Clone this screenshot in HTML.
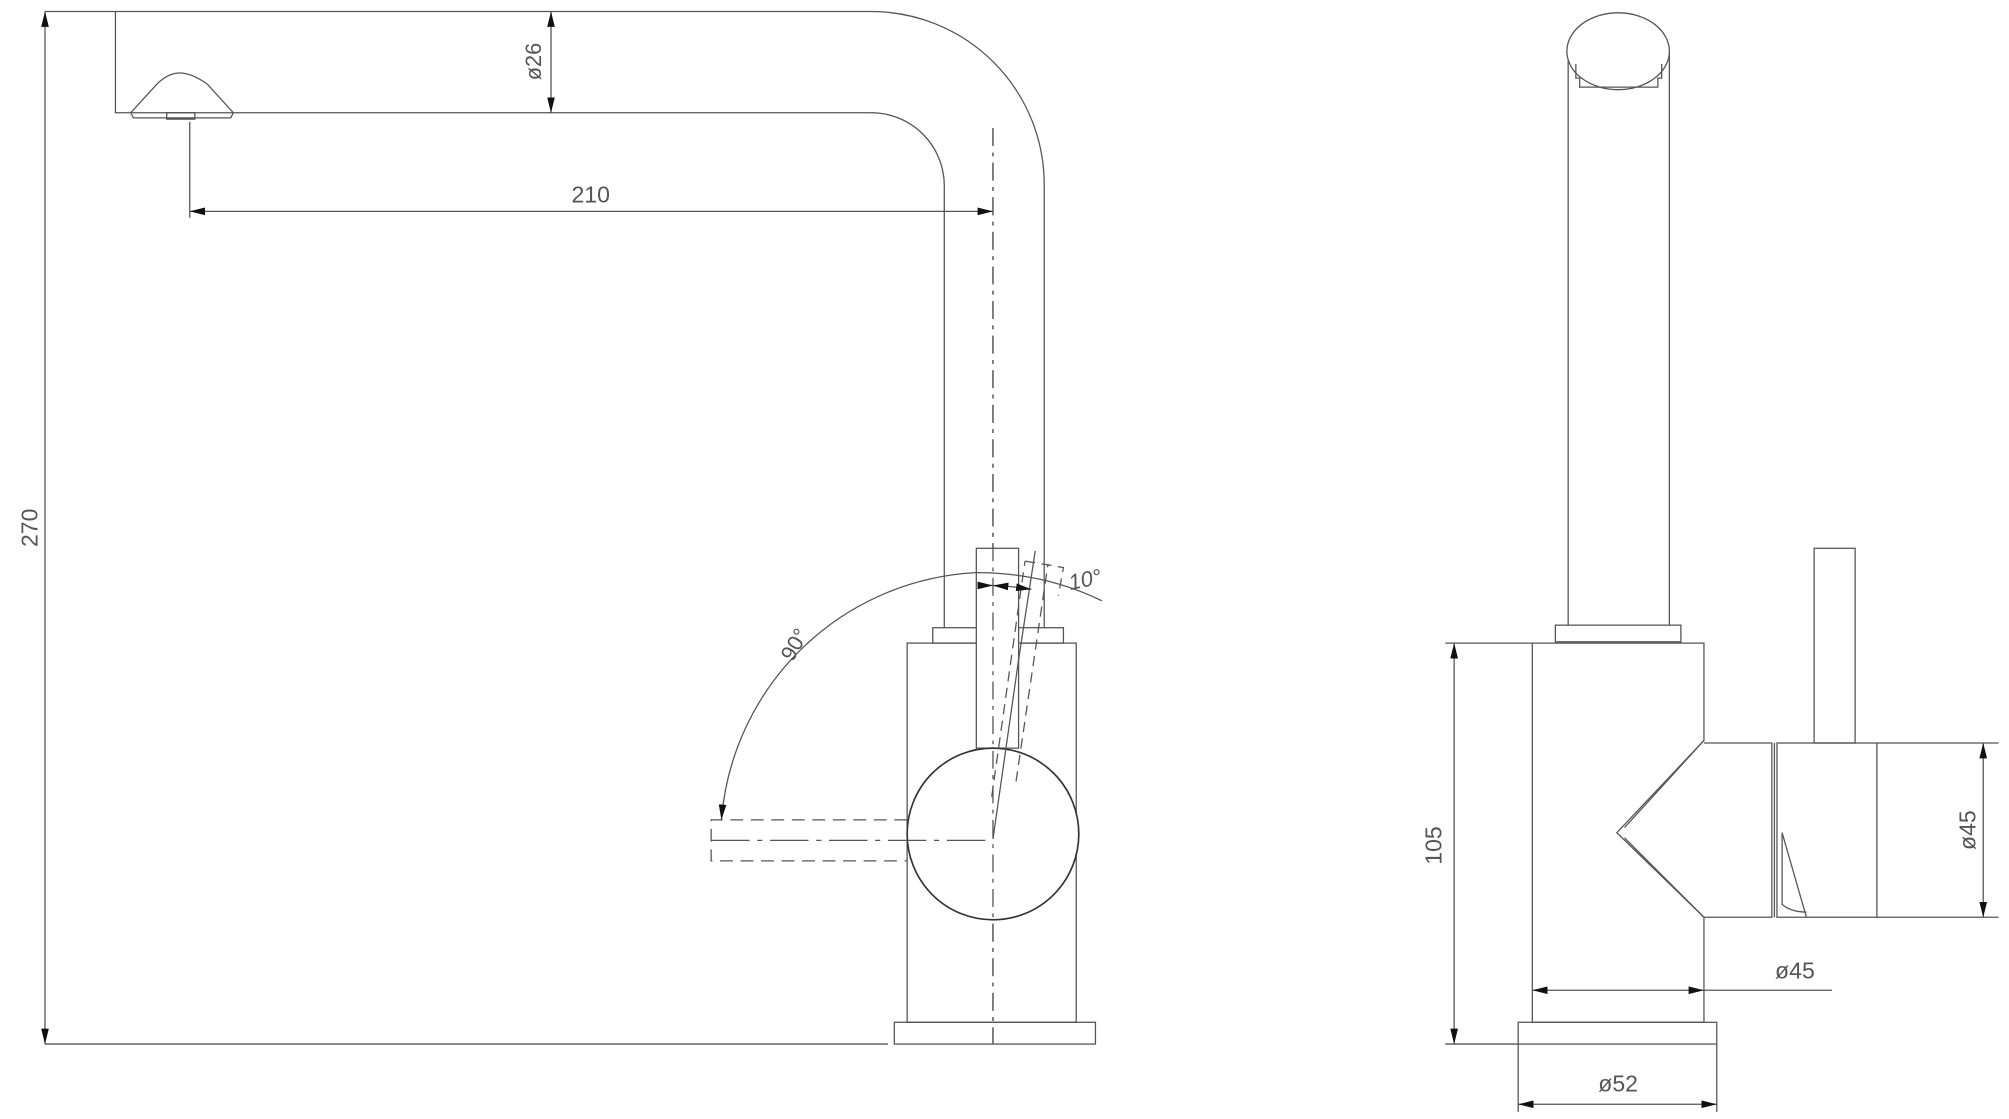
<!DOCTYPE html>
<html><head><meta charset="utf-8"><style>html,body{margin:0;padding:0;background:#fff}svg{display:block}text{font-family:"Liberation Sans",sans-serif;fill:#555}</style></head>
<body>
<svg width="2009" height="1119" viewBox="0 0 1568 873.5" xmlns="http://www.w3.org/2000/svg">
<defs>
<marker id="a" viewBox="0 0 12 6" refX="12" refY="3" markerWidth="12" markerHeight="6" orient="auto-start-reverse" markerUnits="userSpaceOnUse"><path d="M0,0 L12,3 L0,6z" fill="#111"/></marker>
</defs>
<g fill="none" stroke="#555" stroke-width="1">
<!-- LEFT VIEW: spout -->
<path d="M35,9 H680 A135,135 0 0 1 815,144 V490"/>
<path d="M90,9 V88 H680 A57,57 0 0 1 737,145 V490"/>
<path d="M102,88 L122,66 Q131,57 140,57 Q150,57 162,66 L182,88 L180,92 H104 Z"/>
<rect x="130" y="88" width="22" height="5"/>
<!-- dims -->
<line x1="430" y1="9" x2="430" y2="88" marker-start="url(#a)" marker-end="url(#a)"/>
<line x1="148" y1="95" x2="148" y2="170"/>
<line x1="148" y1="165" x2="775" y2="165" marker-start="url(#a)" marker-end="url(#a)"/>
<line x1="35" y1="9" x2="35" y2="815" marker-start="url(#a)" marker-end="url(#a)"/>
<line x1="35" y1="815" x2="693" y2="815"/>
<line x1="775" y1="100" x2="775" y2="815" stroke-dasharray="14,5,3,5"/>
<!-- body -->
<rect x="698" y="798" width="157" height="17"/>
<rect x="708" y="502" width="132" height="296"/>
<rect x="728" y="490" width="102" height="12"/>
<rect x="762" y="428" width="33" height="156" fill="#fff"/>
<path d="M711,665 A67,67 0 0 0 838,668"/>
<circle cx="775" cy="651" r="67" fill="#fff" stroke="#333" stroke-width="1.3"/>
<line x1="775" y1="100" x2="775" y2="815" stroke-dasharray="14,5,3,5"/>
<!-- dashed lever positions -->
<path d="M708,640 H555 V672 H708" stroke-dasharray="10,6"/>
<line x1="555" y1="656" x2="775" y2="656" stroke-dasharray="30,6,4,6"/>
<path d="M774,622 L800,438 M793,610 L818,440 M800,438 L830,443 L826,465" stroke-dasharray="8,5"/>
<line x1="775" y1="655" x2="795" y2="515"/>
<line x1="795" y1="515" x2="808" y2="430"/>
<!-- angle arcs -->
<path d="M563,640 A210,210 0 0 1 762,447" marker-start="url(#a)"/>
<path d="M762,447 Q815,447 860,469"/>
<line x1="764" y1="457" x2="775" y2="457" marker-end="url(#a)"/>
<line x1="790" y1="458" x2="775" y2="457" marker-end="url(#a)"/>
<line x1="790" y1="458" x2="805" y2="460" marker-end="url(#a)"/>
<!-- RIGHT VIEW -->
<path d="M1224,40 V488 M1303,40 V488"/>
<ellipse cx="1263" cy="40" rx="40" ry="30" fill="#fff"/>
<path d="M1230,50 V61 H1233 V68 H1294 V61 H1297 V50"/>
<rect x="1214" y="488" width="98" height="13"/>
<path d="M1196,502 H1330 V578 L1262,650 L1330,716 V798 H1196 Z"/>
<path d="M1330,578 L1268,646 M1330,716 L1268,654"/>
<rect x="1185" y="798" width="155" height="17"/>
<path d="M1330,580 H1383 V716 H1330"/>
<rect x="1387" y="580" width="78" height="136"/>
<path d="M1385,580 V716 M1391,650 L1410,716 M1391,650 V706 Q1398,712 1410,712"/>
<rect x="1416" y="428" width="32" height="152"/>
<!-- right dims -->
<line x1="1135" y1="502" x2="1135" y2="815" marker-start="url(#a)" marker-end="url(#a)"/>
<line x1="1128" y1="502" x2="1196" y2="502"/>
<line x1="1128" y1="815" x2="1185" y2="815"/>
<line x1="1548" y1="580" x2="1548" y2="716" marker-start="url(#a)" marker-end="url(#a)"/>
<line x1="1465" y1="580" x2="1560" y2="580"/>
<line x1="1465" y1="716" x2="1560" y2="716"/>
<line x1="1196" y1="773" x2="1330" y2="773" marker-start="url(#a)" marker-end="url(#a)"/>
<line x1="1330" y1="773" x2="1430" y2="773"/>
<line x1="1185" y1="815" x2="1185" y2="868"/>
<line x1="1340" y1="815" x2="1340" y2="868"/>
<line x1="1185" y1="862" x2="1340" y2="862" marker-start="url(#a)" marker-end="url(#a)"/>
</g>
<text x="461" y="158" font-size="18" text-anchor="middle">210</text>
<text transform="translate(422,48) rotate(-90)" font-size="17" text-anchor="middle">ø26</text>
<text transform="translate(29,412) rotate(-90)" font-size="18" text-anchor="middle">270</text>
<text transform="translate(625,506) rotate(-60)" font-size="17" text-anchor="middle">90°</text>
<text transform="translate(848,458) rotate(-12)" font-size="17" font-style="italic" text-anchor="middle">10°</text>
<text transform="translate(1125,660) rotate(-90)" font-size="18" text-anchor="middle">105</text>
<text transform="translate(1542,648) rotate(-90)" font-size="18" text-anchor="middle">ø45</text>
<text x="1401" y="764" font-size="18" text-anchor="middle">ø45</text>
<text x="1263" y="852" font-size="18" text-anchor="middle">ø52</text>
</svg>
</body></html>
